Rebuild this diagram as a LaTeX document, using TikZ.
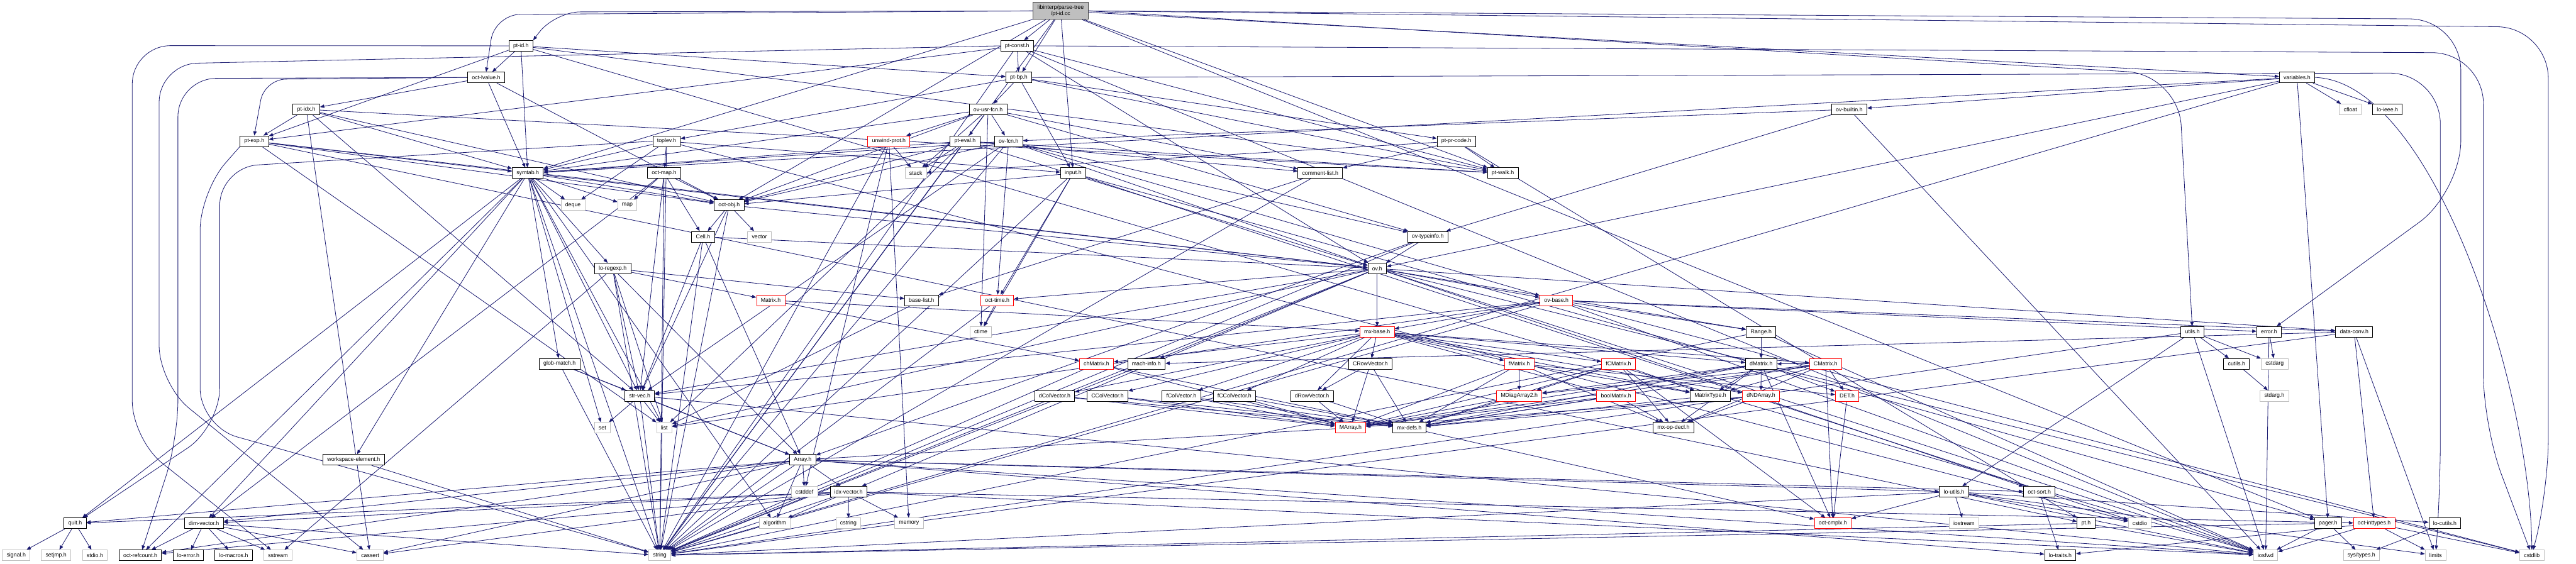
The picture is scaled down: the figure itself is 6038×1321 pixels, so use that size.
\documentclass[tikz,border=0pt]{standalone}
\usepackage{fontspec}
\setmainfont{Liberation Sans}
\usetikzlibrary{arrows.meta}
\pgfdeclarelayer{edges}
\pgfsetlayers{edges,main}
\definecolor{ec}{HTML}{191970}
\definecolor{gb}{HTML}{BFBFBF}
\tikzset{
  nb/.style={draw=black, fill=white, line width=1.3pt, minimum height=25pt, inner xsep=10pt, inner ysep=0pt, font=\fontsize{13}{15}\selectfont, text=black},
  ng/.style={nb, draw=gb},
  nr/.style={nb, draw=red},
  e/.style={draw=ec, line width=1.2pt, -{Triangle[length=10pt,width=8pt]}},
}
\newcommand\edgesfrom[2]{\foreach \q in {#2} {\draw[e] (#1) -- (\q);}}
\begin{document}
\begin{tikzpicture}[x=1pt,y=-1pt]
\useasboundingbox (0,0) rectangle (6038,1321);
% rank 0
\node[nb,fill=gb,draw=black!75,align=center,minimum height=40pt] (root) at (2486,25.6) {libinterp/parse-tree\\/pt-id.cc};
% rank 1
\node[nb] (ptidh) at (1221,107.5) {pt-id.h};
\node[nb] (ptconst) at (2384,107.5) {pt-const.h};
% rank 2
\node[nb] (octlvalue) at (1139.5,181.6) {oct-lvalue.h};
\node[nb] (ptbp) at (2388,181.6) {pt-bp.h};
\node[nb] (variables) at (5384,181.6) {variables.h};
% rank 3
\node[nb] (ptidx) at (718,256.4) {pt-idx.h};
\node[nb] (ovusrfcn) at (2316,256.4) {ov-usr-fcn.h};
\node[nb] (ovbuiltin) at (4334.5,256.4) {ov-builtin.h};
\node[ng] (cfloat) at (5509,256.4) {cfloat};
\node[nb] (loieee) at (5596,256.4) {lo-ieee.h};
% rank 4
\node[nb] (ptexp) at (596,331) {pt-exp.h};
\node[nb] (toplev) at (1562.5,331) {toplev.h};
\node[nr] (unwind) at (2083.5,331) {unwind-prot.h};
\node[nb] (pteval) at (2262,331) {pt-eval.h};
\node[nb] (ovfcn) at (2364,331) {ov-fcn.h};
\node[nb] (ptprcode) at (3413.5,331) {pt-pr-code.h};
% rank 5
\node[nb] (symtab) at (1237,406) {symtab.h};
\node[nb] (octmap) at (1556.5,406) {oct-map.h};
\node[ng] (stack) at (2146.5,406) {stack};
\node[nb] (input) at (2515.5,406) {input.h};
\node[nb] (commentlist) at (3094.5,406) {comment-list.h};
\node[nb] (ptwalk) at (3522.5,406) {pt-walk.h};
% rank 6
\node[ng] (deque) at (1343,481) {deque};
\node[ng] (map) at (1470.5,481) {map};
\node[nb] (octobj) at (1709,481) {oct-obj.h};
% rank 7
\node[nb] (cell) at (1648,555) {Cell.h};
\node[ng] (vector) at (1780,555) {vector};
\node[nb] (ovtypeinfo) at (3346.5,555) {ov-typeinfo.h};
% rank 8
\node[nb] (loregexp) at (1436,629.5) {lo-regexp.h};
\node[nb] (ovh) at (3228,629.5) {ov.h};
% rank 9
\node[nr] (matrixh) at (1806.5,704) {Matrix.h};
\node[nb] (baselist) at (2160,704) {base-list.h};
\node[nr] (octtime) at (2337.5,704) {oct-time.h};
\node[nr] (ovbase) at (3648,704) {ov-base.h};
% rank 10
\node[ng] (ctime) at (2299,778) {ctime};
\node[nr] (mxbase) at (3228,778) {mx-base.h};
\node[nb] (range) at (4128,778) {Range.h};
\node[nb] (utils) at (5139,778) {utils.h};
\node[nb] (error) at (5318.5,778) {error.h};
\node[nb] (dataconv) at (5518,778) {data-conv.h};
% rank 11
\node[nb] (globmatch) at (1311.5,853) {glob-match.h};
\node[nr] (chmatrix) at (2570,853) {chMatrix.h};
\node[nb] (machinfo) at (2687,853) {mach-info.h};
\node[nb] (crowvec) at (3212,853) {CRowVector.h};
\node[nr] (fmatrix) at (3561,853) {fMatrix.h};
\node[nr] (fcmatrix) at (3793.5,853) {fCMatrix.h};
\node[nb] (dmatrix) at (4128,853) {dMatrix.h};
\node[nr] (cmatrix) at (4279,853) {CMatrix.h};
\node[nb] (cutils) at (5242.5,853) {cutils.h};
\node[ng] (cstdarg) at (5331.5,853) {cstdarg};
% rank 12
\node[nb] (strvec) at (1499.5,928) {str-vec.h};
\node[nb] (dcolvec) at (2472,928) {dColVector.h};
\node[nb] (ccolvec) at (2596,928) {CColVector.h};
\node[nb] (fcolvec) at (2769,928) {fColVector.h};
\node[nb] (fccolvec) at (2893.5,928) {fCColVector.h};
\node[nb] (drowvec) at (3075,928) {dRowVector.h};
\node[nr] (mdiag) at (3561,928) {MDiagArray2.h};
\node[nr] (boolmat) at (3788,928) {boolMatrix.h};
\node[nb] (mattype) at (4009,928) {MatrixType.h};
\node[nr] (dndarray) at (4127.5,928) {dNDArray.h};
\node[nr] (det) at (4329.5,928) {DET.h};
\node[ng] (stdarg) at (5331,928) {stdarg.h};
% rank 13
\node[ng] (set) at (1412,1003) {set};
\node[ng] (list) at (1557,1003) {list};
\node[nr] (marray) at (3165.5,1003) {MArray.h};
\node[nb] (mxdefs) at (3303.5,1003) {mx-defs.h};
\node[nb] (mxopdecl) at (3922.5,1003) {mx-op-decl.h};
% rank 14
\node[nb] (workspace) at (829,1078) {workspace-element.h};
\node[nb] (arrayh) at (1881.5,1078) {Array.h};
% rank 15
\node[ng] (cstddef) at (1885.5,1153) {cstddef};
\node[nb] (idxvec) at (1989,1153) {idx-vector.h};
\node[nb] (loutils) at (4580,1153) {lo-utils.h};
\node[nb] (octsort) at (4780,1153) {oct-sort.h};
% rank 16
\node[nb] (quit) at (176,1227) {quit.h};
\node[nb] (dimvec) at (478,1227) {dim-vector.h};
\node[ng] (algorithm) at (1816,1227) {algorithm};
\node[ng] (cstring) at (1988.5,1227) {cstring};
\node[ng] (memory) at (2130.5,1227) {memory};
\node[nr] (octcmplx) at (4296,1227) {oct-cmplx.h};
\node[ng] (iostream) at (4603.5,1227) {iostream};
\node[nb] (pth) at (4889.5,1227) {pt.h};
\node[ng] (cstdio) at (5015.5,1227) {cstdio};
\node[nb] (pager) at (5457,1227) {pager.h};
\node[nr] (octinttypes) at (5565,1227) {oct-inttypes.h};
\node[nb] (locutils) at (5730.5,1227) {lo-cutils.h};
% rank 17
\node[ng] (signal) at (38,1302) {signal.h};
\node[ng] (setjmp) at (131.5,1302) {setjmp.h};
\node[ng] (stdioh) at (222.5,1302) {stdio.h};
\node[nb] (octrefcount) at (329,1302) {oct-refcount.h};
\node[nb] (loerror) at (441.5,1302) {lo-error.h};
\node[nb] (lomacros) at (547.5,1302) {lo-macros.h};
\node[ng] (sstream) at (651.5,1302) {sstream};
\node[ng] (cassert) at (867.5,1302) {cassert};
\node[ng] (string) at (1546.5,1302) {string};
\node[nb] (lotraits) at (4829,1302) {lo-traits.h};
\node[ng] (iosfwd) at (5310.5,1302) {iosfwd};
\node[ng] (systypes) at (5535,1302) {sys/types.h};
\node[ng] (limits) at (5709,1302) {limits};
\node[ng] (cstdlib) at (5934.5,1302) {cstdlib};

\begin{pgfonlayer}{edges}
\edgesfrom{root}{ptconst,ptbp,pteval,symtab,octobj,ptwalk,variables,pager,input}
\edgesfrom{ptidh}{octlvalue,ptbp,ptexp,symtab,ptwalk,iosfwd}
\edgesfrom{ptconst}{ptbp,ptexp,ptwalk,ovh,iosfwd,string}
\edgesfrom{octlvalue}{ptidx,symtab,octobj}
\edgesfrom{ptbp}{ovusrfcn,input,toplev,ptprcode,ptwalk}
\edgesfrom{variables}{cfloat,loieee,ovbuiltin,string,symtab,pager,ovh}
\edgesfrom{ptidx}{ptexp,symtab,octobj,strvec,ptwalk,cassert}
\edgesfrom{ovusrfcn}{unwind,ovfcn,stack,symtab,commentlist,octobj,ovtypeinfo,string,ctime}
\edgesfrom{ovbuiltin}{ovfcn,ovtypeinfo,iosfwd}
\edgesfrom{ptexp}{symtab,octobj,list,pth,ovh}
\edgesfrom{toplev}{octmap,symtab,deque,input,string,cstdio}
\edgesfrom{unwind}{stack,memory,cstddef,string}
\edgesfrom{pteval}{stack,list,commentlist,ptwalk,octobj,ovh,symtab,string}
\edgesfrom{ovfcn}{symtab,octobj,ovtypeinfo,octtime,ovbase,strvec,string,ovh}
\edgesfrom{ptprcode}{commentlist,ptwalk,stack,pth}
\edgesfrom{symtab}{deque,map,octobj,loregexp,globmatch,list,set,string,strvec,workspace,ovh,octrefcount,algorithm,dimvec,quit}
\edgesfrom{octmap}{map,cell,octobj,strvec,string,dimvec}
\edgesfrom{input}{octtime,octobj,pager,cstdio,string,ctime}
\edgesfrom{commentlist}{baselist,string}
\edgesfrom{octobj}{cell,vector,ovh,strvec,string}
\edgesfrom{cell}{arrayh,strvec,ovh,string}
\edgesfrom{ovtypeinfo}{ovh,arrayh,string}
\edgesfrom{loregexp}{matrixh,baselist,list,sstream,string,strvec,arrayh}
\edgesfrom{ovh}{mxbase,ovbase,range,dataconv,machinfo,octtime,idxvec,strvec,octsort,iosfwd,string,list,cstdlib}
\edgesfrom{matrixh}{mxbase,chmatrix}
\edgesfrom{baselist}{list}
\edgesfrom{octtime}{ctime,string}
\edgesfrom{ovbase}{mxbase,range,dataconv,error,strvec,list,iosfwd,string,cstdlib}
\edgesfrom{mxbase}{crowvec,drowvec,fmatrix,fcmatrix,boolmat,mattype,dmatrix,cmatrix,chmatrix,dcolvec,ccolvec,fcolvec,fccolvec,dndarray}
\edgesfrom{range}{dmatrix,iosfwd,string}
\edgesfrom{utils}{cutils,cstdarg,iosfwd,string,loutils}
\edgesfrom{error}{cstdarg,iosfwd}
\edgesfrom{dataconv}{machinfo,octinttypes,limits,string}
\edgesfrom{globmatch}{strvec,arrayh,string}
\edgesfrom{chmatrix}{marray,mxdefs,string}
\edgesfrom{machinfo}{string}
\edgesfrom{crowvec}{drowvec,marray,mxdefs}
\edgesfrom{fmatrix}{mdiag,mattype,mxopdecl,marray,mxdefs,det}
\edgesfrom{fcmatrix}{mdiag,mattype,mxopdecl,marray,mxdefs,octcmplx}
\edgesfrom{dmatrix}{mattype,dndarray,det,mdiag,marray,mxdefs,mxopdecl,octcmplx}
\edgesfrom{cmatrix}{dmatrix,det,mattype,mdiag,marray,mxdefs,mxopdecl,octcmplx}
\edgesfrom{cutils}{stdarg}
\edgesfrom{strvec}{set,list,string,arrayh,iosfwd}
\edgesfrom{dcolvec}{marray,mxdefs}
\edgesfrom{ccolvec}{marray,mxdefs}
\edgesfrom{fcolvec}{marray,mxdefs}
\edgesfrom{fccolvec}{marray,mxdefs}
\edgesfrom{drowvec}{marray,mxdefs}
\edgesfrom{mdiag}{marray,mxdefs}
\edgesfrom{boolmat}{mxopdecl,mxdefs,marray}
\edgesfrom{mattype}{mxdefs}
\edgesfrom{dndarray}{marray,mxdefs,mxopdecl}
\edgesfrom{det}{octcmplx}
\edgesfrom{marray}{arrayh}
\edgesfrom{mxdefs}{octcmplx}
\edgesfrom{workspace}{string}
\edgesfrom{arrayh}{cstddef,idxvec,algorithm,string,dimvec,quit,cassert,octrefcount,lotraits,octsort,loutils,iosfwd}
\edgesfrom{idxvec}{algorithm,cstring,memory,dimvec,octrefcount,string,quit,octinttypes,iosfwd,cassert}
\edgesfrom{loutils}{octcmplx,iostream,string,cstdio,locutils,iosfwd,limits}
\edgesfrom{octsort}{lotraits}
\edgesfrom{pth}{string,iosfwd}
\edgesfrom{pager}{iosfwd,systypes,string}
\edgesfrom{octinttypes}{iosfwd,limits,cstdlib,lotraits}
\edgesfrom{locutils}{systypes}
\edgesfrom{quit}{signal,setjmp,stdioh}
\edgesfrom{dimvec}{octrefcount,loerror,lomacros,sstream,cassert,string}
% routed edges
\draw[e,rounded corners=60pt] (root.west) -- (1300,28) -- (ptidh.north east);
\draw[e,rounded corners=60pt] (root.west) -- (1160,34) -- (octlvalue.north);
\draw[e,rounded corners=50pt] (octlvalue.west) -- (620,186) -- (ptexp.north);
\draw[e,rounded corners=90pt] (ptidh.west) -- (310,107) -- (310,1030) -- (sstream);
\draw[e,rounded corners=90pt] (ptconst.west) -- (373,150) -- (373,900) -- (cassert);
\draw[e,rounded corners=90pt] (octlvalue.west) -- (417,184) -- (417,1030) -- (octrefcount);
\draw[e,rounded corners=90pt] (ptexp.south west) -- (469,450) -- (469,1000) -- (string);
\draw[e,rounded corners=90pt] (toplev.west) -- (515,392) -- (515,1000) -- (quit);
\draw[e,rounded corners=120pt] (root.east) -- (5768,45) -- (5768,450) -- (error);
\draw[e,rounded corners=120pt] (root.east) -- (5973,64) -- (5973,1150) -- (cstdlib);
\draw[e,rounded corners=120pt] (ptbp.east) -- (5720,171) -- (5720,1150) -- (limits);
\draw[e,rounded corners=120pt] (ptconst.east) -- (5821,124) -- (5821,1000) -- (cstdlib);
\draw[e,rounded corners=120pt] (root.east) -- (5106,175) -- (utils);
\draw[e] (variables.east) .. controls (5700,190) and (5930,900) .. (cstdlib.north);
\end{pgfonlayer}
\end{tikzpicture}
\end{document}
